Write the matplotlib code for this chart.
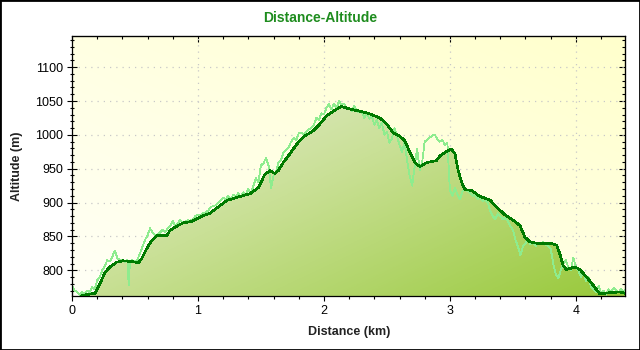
import numpy as np
import matplotlib
matplotlib.use("Agg")
import matplotlib.pyplot as plt
from matplotlib.colors import LinearSegmentedColormap
from matplotlib.patches import Polygon, Rectangle
from matplotlib.ticker import MultipleLocator

# smoothed profile (dark line)
dist_km = [0.0, 0.05, 0.087, 0.183, 0.222, 0.262, 0.302, 0.355, 0.407, 0.474, 0.526,
           0.553, 0.593, 0.633, 0.672, 0.752, 0.778, 0.831, 0.883, 0.950, 0.990,
           1.042, 1.095, 1.121, 1.228, 1.333, 1.413, 1.479, 1.532, 1.571, 1.611,
           1.637, 1.677, 1.730, 1.783, 1.836, 1.915, 1.968, 2.021, 2.074, 2.140,
           2.206, 2.286, 2.365, 2.444, 2.498, 2.550, 2.603, 2.643, 2.683, 2.722,
           2.762, 2.815, 2.894, 2.921, 2.987, 3.013, 3.040, 3.066, 3.093, 3.119,
           3.172, 3.238, 3.317, 3.371, 3.437, 3.502, 3.556, 3.595, 3.635, 3.714,
           3.794, 3.847, 3.873, 3.899, 3.926, 3.992, 4.032, 4.085, 4.137, 4.190,
           4.270, 4.349, 4.389]
alt_m = [757, 758, 763, 766, 780, 797, 805, 812, 814, 813, 811,
         817, 832, 844, 851, 851, 859, 865, 870, 872, 876,
         881, 884, 888, 903, 909, 913, 922, 942, 947, 943,
         947, 959, 972, 986, 997, 1006, 1016, 1028, 1035, 1042,
         1038, 1035, 1031, 1025, 1016, 1003, 998, 991, 974, 959,
         953, 959, 962, 969, 977, 979, 972, 947, 930, 919,
         918, 909, 904, 893, 882, 874, 866, 849, 842, 839,
         840, 837, 824, 807, 801, 805, 801, 790, 778, 765,
         767, 768, 766]

# raw gps readings (light line)
raw_km = [0.00, 0.02, 0.04, 0.06, 0.08, 0.10, 0.12, 0.14, 0.16, 0.18, 0.20, 0.22,
          0.24, 0.26, 0.28, 0.30, 0.32, 0.34, 0.36, 0.38, 0.40, 0.42, 0.44, 0.45,
          0.46, 0.48, 0.50, 0.52, 0.54, 0.56, 0.58, 0.60, 0.62, 0.64, 0.66, 0.68,
          0.70, 0.72, 0.74, 0.76, 0.78, 0.80, 0.82, 0.84, 0.86, 0.88, 0.90, 0.92,
          0.94, 0.96, 0.98, 1.00, 1.02, 1.04, 1.06, 1.08, 1.10, 1.12, 1.14, 1.16,
          1.18, 1.20, 1.22, 1.24, 1.26, 1.28, 1.30, 1.32, 1.34, 1.36, 1.38, 1.40,
          1.42, 1.44, 1.46, 1.48, 1.50, 1.52, 1.54, 1.56, 1.58, 1.60, 1.62, 1.64,
          1.66, 1.68, 1.70, 1.72, 1.74, 1.76, 1.78, 1.80, 1.82, 1.84, 1.86, 1.88,
          1.90, 1.92, 1.94, 1.96, 1.98, 2.00, 2.02, 2.04, 2.06, 2.08, 2.10, 2.12,
          2.14, 2.16, 2.18, 2.20, 2.22, 2.24, 2.26, 2.28, 2.30, 2.32, 2.34, 2.36,
          2.38, 2.40, 2.42, 2.44, 2.46, 2.48, 2.50, 2.52, 2.54, 2.56, 2.58, 2.60,
          2.62, 2.64, 2.66, 2.68, 2.70, 2.72, 2.74, 2.76, 2.78, 2.80, 2.82, 2.84,
          2.86, 2.88, 2.90, 2.92, 2.94, 2.96, 2.98, 3.00, 3.02, 3.04, 3.06, 3.08,
          3.10, 3.12, 3.14, 3.16, 3.18, 3.20, 3.22, 3.24, 3.26, 3.28, 3.30, 3.32,
          3.34, 3.36, 3.38, 3.40, 3.42, 3.44, 3.46, 3.48, 3.50, 3.52, 3.54, 3.56,
          3.58, 3.60, 3.62, 3.64, 3.66, 3.68, 3.70, 3.72, 3.74, 3.76, 3.78, 3.80,
          3.82, 3.84, 3.86, 3.88, 3.90, 3.92, 3.94, 3.96, 3.98, 4.00, 4.02, 4.04,
          4.06, 4.08, 4.10, 4.12, 4.14, 4.16, 4.18, 4.20, 4.22, 4.24, 4.26, 4.28,
          4.30, 4.32, 4.34, 4.36, 4.38, 4.39]
raw_alt = [778, 770, 768, 764, 768, 765, 770, 768, 775, 772, 785, 790,
           800, 806, 815, 813, 820, 829, 818, 815, 816, 812, 815, 778,
           812, 815, 812, 816, 825, 835, 845, 852, 862, 855, 852, 853,
           856, 860, 856, 862, 866, 873, 866, 870, 874, 870, 872, 874,
           873, 876, 880, 882, 880, 884, 885, 888, 893, 895, 896, 900,
           903, 907, 905, 910, 904, 912, 909, 914, 908, 915, 912, 920,
           912, 925, 936, 930, 955, 958, 966, 955, 922, 940, 945, 960,
           963, 975, 977, 982, 990, 995, 992, 1002, 1003, 1000, 1005, 1008,
           1010, 1015, 1025, 1022, 1032, 1030, 1040, 1045, 1038, 1046, 1040, 1050,
           1044, 1046, 1038, 1040, 1035, 1043, 1035, 1033, 1035, 1025, 1032, 1024,
           1028, 1015, 1022, 1010, 1018, 1000, 1005, 988, 995, 1010, 998, 985,
           975, 990, 962, 940, 925, 952, 980, 948, 960, 990, 993, 996,
           999, 1000, 994, 990, 993, 985, 988, 918, 910, 922, 912, 905,
           916, 920, 917, 914, 910, 912, 905, 908, 902, 904, 900, 888,
           880, 876, 884, 880, 875, 878, 872, 865, 860, 845, 835, 822,
           835, 840, 845, 838, 842, 836, 840, 838, 842, 838, 836, 832,
           810, 795, 788, 800, 810, 815, 804, 800, 818, 805, 800, 790,
           798, 784, 790, 776, 772, 768, 777, 766, 770, 764, 772, 768,
           774, 770, 768, 772, 768, 770]

x_ticks = [0, 1, 2, 3, 4]
y_ticks = [800, 850, 900, 950, 1000, 1050, 1100]
x_lim = (0, 4.39)
y_lim = (762, 1146)

plt.rcParams['font.family'] = ['Liberation Sans', 'DejaVu Sans']

fig = plt.figure(figsize=(6.4, 3.5), dpi=100)
ax = fig.add_axes([72 / 640, 1 - 296 / 350, (625 - 72) / 640, (296 - 36) / 350])
ax.set_xlim(*x_lim)
ax.set_ylim(*y_lim)

# background gradient
u, v = np.meshgrid(np.linspace(0, 1, 200), np.linspace(0, 1, 200))
bg_cmap = LinearSegmentedColormap.from_list("bg", ["#fffff6", "#ffffe2", "#ffffcc"])
ax.imshow((u + v) / 2, cmap=bg_cmap, origin="lower", aspect="auto",
          extent=[*x_lim, *y_lim], zorder=0, vmin=0, vmax=1)

# filled area with gradient
verts = [(dist_km[0], y_lim[0] - 50)] + list(zip(dist_km, alt_m)) + [(dist_km[-1], y_lim[0] - 50)]
poly = Polygon(verts, closed=True, facecolor="none", edgecolor="none")
ax.add_patch(poly)
fill_cmap = LinearSegmentedColormap.from_list("fill", ["#f2f2ec", "#c9e096", "#98c93a"])
img = ax.imshow((u + (1 - v)) / 2, cmap=fill_cmap, origin="lower", aspect="auto",
                extent=[*x_lim, *y_lim], zorder=1, vmin=0, vmax=1)
img.set_clip_path(poly)

ax.plot(raw_km, raw_alt, color="#8eec8e", lw=0.6, zorder=2, antialiased=False)
ax.plot(dist_km, alt_m, color="#007a00", lw=1.2, zorder=3, antialiased=False)

ax.set_axisbelow(True)
ax.grid(True, color="#c8c8c8", linestyle=(0, (1, 4)), lw=0.9)

for s in ax.spines.values():
    s.set_linewidth(0.9)

ax.set_xticks(x_ticks)
ax.set_yticks(y_ticks)
ax.xaxis.set_minor_locator(MultipleLocator(0.2))
ax.yaxis.set_minor_locator(MultipleLocator(10))
ax.tick_params(axis="y", which="major", direction="inout", length=6.5, width=0.8,
               labelsize=9, pad=3)
ax.tick_params(axis="y", which="minor", direction="inout", length=3, width=0.8)
ax.tick_params(axis="x", which="major", direction="inout", length=7, width=0.8,
               labelsize=9, pad=3)
ax.tick_params(axis="x", which="minor", direction="out", length=2.5, width=0.8)

top = ax.secondary_xaxis("top")
top.set_xticks(x_ticks)
top.xaxis.set_minor_locator(MultipleLocator(0.2))
top.tick_params(which="major", direction="in", length=4.5, width=0.8, labeltop=False)
top.tick_params(which="minor", direction="in", length=2.5, width=0.8)

right = ax.secondary_yaxis("right")
right.set_yticks(y_ticks)
right.yaxis.set_minor_locator(MultipleLocator(10))
right.tick_params(which="major", direction="in", length=4, width=0.8, labelright=False)
right.tick_params(which="minor", direction="in", length=2.5, width=0.8)

fig.text(0.5, 1 - 18 / 350, "Distance-Altitude", ha="center", va="center",
         fontsize=10, fontweight="bold", color="#1e8c1e")
fig.text(349 / 640, 1 - 332 / 350, "Distance (km)", ha="center", va="center",
         fontsize=9, fontweight="bold", color="#222222")
fig.text(17 / 640, 1 - 166 / 350, "Altitude (m)", ha="center", va="center",
         rotation=90, fontsize=9, fontweight="bold", color="#222222")

fig.add_artist(Rectangle((0, 0), 1, 1, transform=fig.transFigure, fill=False,
                         edgecolor="black", lw=2))

fig.savefig("out.png", dpi=100)
